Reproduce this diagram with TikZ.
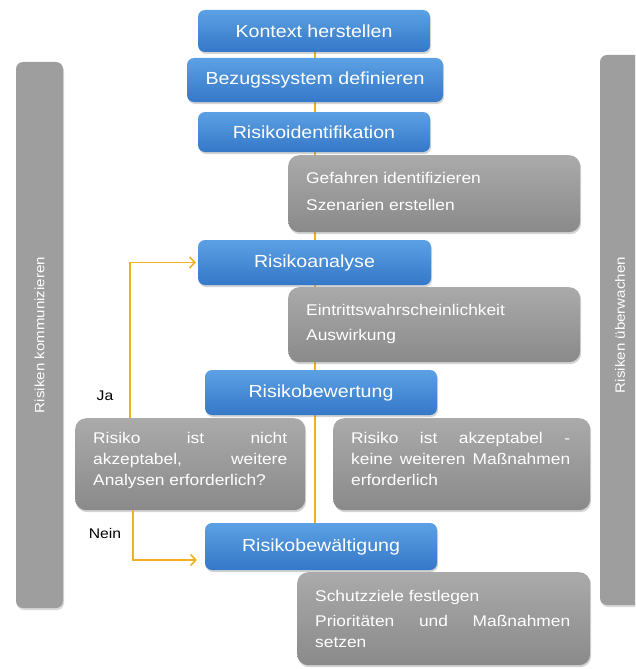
\documentclass[tikz,border=0pt]{standalone}
\usepackage{fontspec}
\setmainfont{Liberation Sans}[FakeStretch=1.12]
\usetikzlibrary{arrows.meta,shadows,backgrounds,calc}
\definecolor{bluetop}{RGB}{92,160,228}
\definecolor{bluebot}{RGB}{52,120,200}
\definecolor{graytop}{RGB}{170,170,170}
\definecolor{graybot}{RGB}{138,138,138}
\definecolor{barcol}{RGB}{158,158,158}
\definecolor{ylw}{RGB}{242,176,30}
\tikzset{
  bluebox/.style={rounded corners=7pt, top color=bluetop, bottom color=bluebot, draw=none,
    text=white, font=\fontsize{17.5}{20}\selectfont, inner sep=0pt, anchor=center,
    drop shadow={opacity=0.35, shadow xshift=1pt, shadow yshift=-2pt}},
  graybox/.style={rounded corners=11pt, top color=graytop, bottom color=graybot, draw=none,
    text=white, font=\fontsize{15.5}{21}\selectfont, inner sep=0pt, anchor=north west,
    drop shadow={opacity=0.35, shadow xshift=1pt, shadow yshift=-2pt}},
  graytext/.style={anchor=north west, text=white, align=left, inner sep=0pt},
  sidebar/.style={rounded corners=7pt, fill=barcol, draw=none,
    drop shadow={opacity=0.3, shadow xshift=1pt, shadow yshift=-2pt}},
  bartext/.style={text=white, font=\fontsize{13.5}{16}\selectfont, rotate=90},
  conn/.style={draw=ylw, line width=1.8pt},
  arr/.style={conn, -{Straight Barb[length=5pt,width=11pt,line width=1.6pt]}},
  lbl/.style={text=black, font=\fontsize{14}{16}\selectfont}
}
\begin{document}
\begin{tikzpicture}[x=1pt,y=-1pt]
\clip (0,0) rectangle (635,669);
\useasboundingbox (0,0) rectangle (635,669);

% side bars
\node[sidebar, minimum width=47pt, minimum height=546pt] (lbar) at (39.5,335) {};
\node[bartext] (ltext) at (lbar.center) {Risiken kommunizieren};
\node[sidebar, minimum width=50pt, minimum height=550pt] (rbar) at (625,330) {};
\node[bartext] (rtext) at (620,325) {Risiken überwachen};

% blue boxes
\node[bluebox, minimum width=232pt, minimum height=42pt] (kontext) at (314,31) {Kontext herstellen};
\node[bluebox, minimum width=256pt, minimum height=44pt] (bezug) at (315,80) {Bezugssystem definieren};
\node[bluebox, minimum width=232pt, minimum height=40pt] (ident) at (314,132) {Risikoidentifikation};
\node[bluebox, minimum width=233pt, minimum height=45pt] (analyse) at (314.5,262.5) {Risikoanalyse};
\node[bluebox, minimum width=232pt, minimum height=45pt] (bewert) at (321,392.5) {Risikobewertung};
\node[bluebox, minimum width=232pt, minimum height=47pt] (bewaelt) at (321,546.5) {Risikobewältigung};

% gray boxes
\node[graybox, minimum width=292pt, minimum height=77pt] (gefahr) at (288,155) {};
\node[graytext, font=\fontsize{15.5}{27}\selectfont] (gefahrt) at (306,172)
  {Gefahren identifizieren\\Szenarien erstellen};
\node[graybox, minimum width=292pt, minimum height=75pt] (eintritt) at (288,287) {};
\node[graytext, font=\fontsize{15.5}{25}\selectfont] (eintrittt) at (306,304)
  {Eintrittswahrscheinlichkeit\\Auswirkung};
\node[graybox, minimum width=230pt, minimum height=92pt] (dec) at (75,418) {};
\node[graytext, font=\fontsize{15.5}{21}\selectfont] (dect) at (93,432)
  {\makebox[194pt][l]{Risiko\hfill ist\hfill nicht}\\\makebox[194pt][l]{akzeptabel,\hfill weitere}\\Analysen erforderlich?};
\node[graybox, minimum width=257pt, minimum height=92pt] (akz) at (333,418) {};
\node[graytext, font=\fontsize{15.5}{21}\selectfont] (akzt) at (351,432)
  {\makebox[219pt][l]{Risiko\hfill ist\hfill akzeptabel\hfill -}\\\makebox[219pt][l]{keine\hfill weiteren\hfill Maßnahmen}\\erforderlich};
\node[graybox, minimum width=293pt, minimum height=93pt] (schutz) at (297,572) {};
\node[graytext, font=\fontsize{15.5}{21}\selectfont] (schutzt) at (315,590)
  {Schutzziele festlegen\\[4pt]\makebox[255pt][l]{Prioritäten\hfill und\hfill Maßnahmen}\\setzen};

% labels
\node[lbl] (ja) at (105,396) {Ja};
\node[lbl] (nein) at (105,533) {Nein};

% connectors
\begin{scope}[on background layer]
\draw[conn] (kontext.south -| 315,0) -- (bezug.north -| 315,0);
\draw[conn] (bezug.south -| 315,0) -- (ident.north -| 315,0);
\draw[conn] (ident.south -| 315,0) -- (analyse.north -| 315,0);
\draw[conn] (analyse.south -| 315,0) -- (bewert.north -| 315,0);
\draw[conn] (bewert.south -| 315,0) -- (bewaelt.north -| 315,0);
\end{scope}
\coordinate (jaend) at ([xshift=-2pt]analyse.west);
\coordinate (neinend) at ([xshift=-8pt,yshift=-13.5pt]bewaelt.west);
\draw[arr] (dec.north -| 130,0) |- (jaend);
\draw[arr] (dec.south -| 133,0) |- (neinend);
\end{tikzpicture}
\end{document}
